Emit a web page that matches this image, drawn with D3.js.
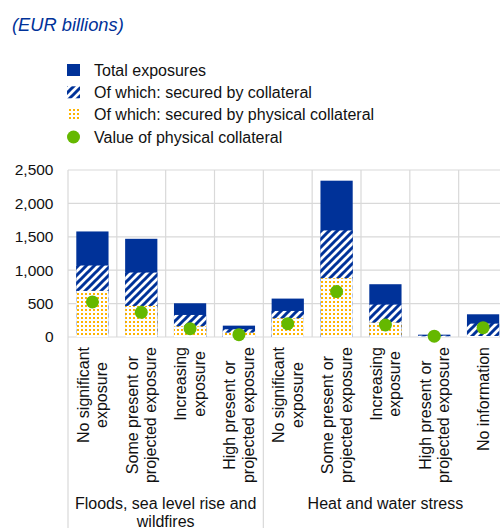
<!DOCTYPE html>
<html>
<head>
<meta charset="utf-8">
<script src="https://cdn.jsdelivr.net/npm/d3@7"></script>
<style>
  html, body { margin: 0; padding: 0; background: #fff; }
  svg { display: block; font-family: "Liberation Sans", Arial, sans-serif; }
</style>
</head>
<body>
<div id="chart"></div>
<script>
// ---- Data ----
const groups = ["Floods, sea level rise and|wildfires", "Heat and water stress"];
const categories = [
  "No significant|exposure",
  "Some present or|projected exposure",
  "Increasing|exposure",
  "High present or|projected exposure",
  "No significant|exposure",
  "Some present or|projected exposure",
  "Increasing|exposure",
  "High present or|projected exposure",
  "No information"
];
const categoryGroup = [0, 0, 0, 0, 1, 1, 1, 1, 1];
const totalExposures = [1580, 1470, 505, 170, 575, 2340, 790, 35, 340];
const securedByCollateral = [1070, 965, 330, 115, 390, 1595, 485, 20, 200];
const securedByPhysical = [690, 465, 160, 65, 280, 880, 215, 10, 15];
const physicalCollateralValue = [525, 370, 125, 35, 200, 680, 180, 12, 140];
const yTicks = [0, 500, 1000, 1500, 2000, 2500];
const legendLabels = ["Total exposures", "Of which: secured by collateral",
  "Of which: secured by physical collateral", "Value of physical collateral"];

// ---- Layout ----
const W = 500, H = 528;
const blue = "#003299", yellow = "#FFB400", green = "#65B800", grid = "#d9d9d9";
const fs = 16;
const tickFs = 15.5;

const svg = d3.select("#chart").append("svg").attr("width", W).attr("height", H);
const defs = svg.append("defs");

const hatch = defs.append("pattern").attr("id", "hatch")
  .attr("patternUnits", "userSpaceOnUse").attr("width", 8).attr("height", 8);
hatch.append("rect").attr("width", 8).attr("height", 8).attr("fill", "#fff");
hatch.append("path").attr("d", "M-2,2 L2,-2 M0,8 L8,0 M6,10 L10,6")
  .attr("stroke", blue).attr("stroke-width", 3);

const dots = defs.append("pattern").attr("id", "dots")
  .attr("patternUnits", "userSpaceOnUse").attr("width", 4).attr("height", 4);
dots.append("rect").attr("width", 4).attr("height", 4).attr("fill", "#fff");
dots.append("rect").attr("x", 1).attr("y", 1).attr("width", 2).attr("height", 2).attr("fill", yellow);

// Title
svg.append("text").attr("x", 12).attr("y", 31)
  .attr("font-size", 18.3).attr("font-style", "italic").attr("fill", blue)
  .text("(EUR billions)");

// Legend
const legY = [70, 92.3, 114.6, 137];
const leg = svg.append("g");
legendLabels.forEach((lab, i) => {
  if (i < 3) {
    leg.append("rect").attr("x", 67).attr("y", legY[i] - 6).attr("width", 13).attr("height", 12)
      .attr("fill", i === 0 ? blue : (i === 1 ? "url(#hatch)" : "url(#dots)"));
  } else {
    leg.append("circle").attr("cx", 73.5).attr("cy", legY[i]).attr("r", 6.5).attr("fill", green);
  }
  leg.append("text").attr("x", 94).attr("y", legY[i]).attr("dy", "0.36em")
    .attr("font-size", fs).attr("fill", "#111").text(lab);
});

// Scales
const x0 = 68, x1 = 507.5, yTop = 170, yBot = 337;
const x = d3.scaleBand().domain(d3.range(categories.length)).range([x0, x1]).paddingInner(0).paddingOuter(0);
const y = d3.scaleLinear().domain([0, 2500]).range([yBot, yTop]);
const barW = x.bandwidth() * 0.66;

// Gridlines
const g = svg.append("g");
yTicks.forEach(t => {
  g.append("line").attr("x1", x0).attr("x2", x1).attr("y1", y(t)).attr("y2", y(t))
    .attr("stroke", grid).attr("stroke-width", 1.2);
});
d3.range(categories.length + 1).forEach(i => {
  const xx = i < categories.length ? x(i) : x1;
  const isGroupEdge = i === 0 || i === categories.length || categoryGroup[i] !== categoryGroup[i - 1];
  g.append("line").attr("x1", xx).attr("x2", xx).attr("y1", yTop)
    .attr("y2", isGroupEdge ? H : yBot)
    .attr("stroke", grid).attr("stroke-width", 1.2);
});

// Y axis labels
const yAxis = d3.axisLeft(y).tickValues(yTicks).tickFormat(d3.format(",")).tickSize(0).tickPadding(0);
const ya = svg.append("g").attr("transform", "translate(53.5,0)").call(yAxis);
ya.select(".domain").remove();
ya.selectAll("text").attr("font-size", tickFs).attr("fill", "#111")
  .attr("font-family", "'Liberation Sans', Arial, sans-serif");

// Bars
const bars = svg.append("g");
categories.forEach((c, i) => {
  const bx = x(i) + (x.bandwidth() - barW) / 2;
  bars.append("rect").attr("x", bx).attr("width", barW)
    .attr("y", y(totalExposures[i])).attr("height", y(0) - y(totalExposures[i])).attr("fill", blue);
  bars.append("rect").attr("x", bx).attr("width", barW)
    .attr("y", y(securedByCollateral[i])).attr("height", y(0) - y(securedByCollateral[i])).attr("fill", "url(#hatch)");
  bars.append("rect").attr("x", bx).attr("width", barW)
    .attr("y", y(securedByPhysical[i])).attr("height", y(0) - y(securedByPhysical[i])).attr("fill", "url(#dots)");
});
categories.forEach((c, i) => {
  bars.append("circle").attr("cx", x(i) + x.bandwidth() / 2).attr("cy", y(physicalCollateralValue[i]))
    .attr("r", 6.5).attr("fill", green);
});

// Category labels (rotated)
const lh = 18.7;
const labTop = 347;
categories.forEach((c, i) => {
  const lines = c.split("|");
  const cx = x(i) + x.bandwidth() / 2;
  const t = svg.append("text").attr("font-size", fs).attr("fill", "#111").attr("text-anchor", "middle");
  lines.forEach((ln, k) => {
    t.append("tspan").attr("x", 0).attr("y", (k - (lines.length - 1) / 2) * lh).attr("dy", "0.35em").text(ln);
  });
  let maxLen = 0;
  t.selectAll("tspan").each(function () { maxLen = Math.max(maxLen, this.getComputedTextLength()); });
  t.attr("transform", `translate(${cx},${labTop + maxLen / 2}) rotate(-90)`);
});

// Group labels
groups.forEach((gname, gi) => {
  const idx = categoryGroup.map((v, i) => v === gi ? i : -1).filter(v => v >= 0);
  const gx0 = x(idx[0]);
  const gx1 = idx[idx.length - 1] + 1 < categories.length ? x(idx[idx.length - 1] + 1) : x1;
  const gc = (gx0 + gx1) / 2;
  const t = svg.append("text").attr("font-size", fs).attr("fill", "#111").attr("text-anchor", "middle");
  gname.split("|").forEach((ln, k) => {
    t.append("tspan").attr("x", gc).attr("y", 509 + k * 17.5).text(ln);
  });
});
</script>
</body>
</html>
